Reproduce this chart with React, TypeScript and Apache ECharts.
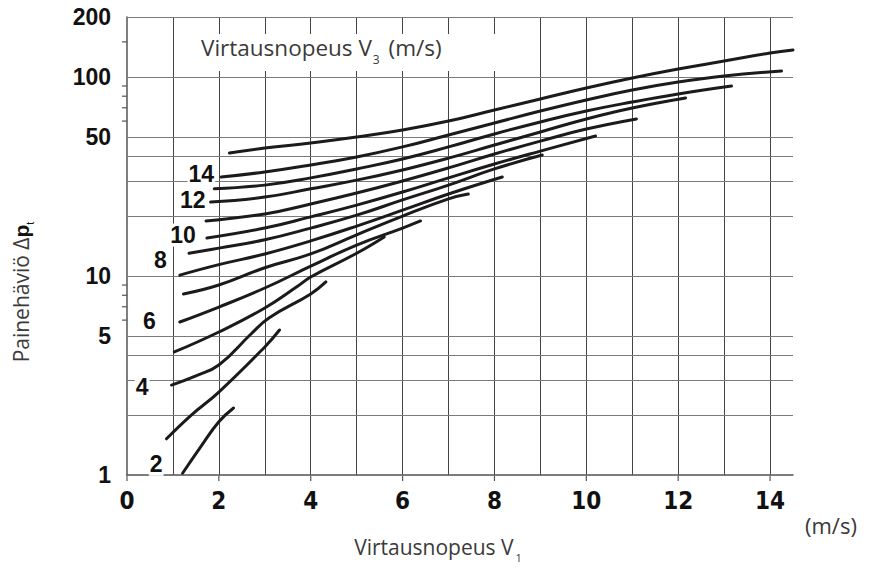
import React, { useEffect, useRef } from 'react';
import * as echarts from 'echarts';

// ---- axes ----
const X_MIN = 0;
const X_MAX = 14.5;
const X_STEP = 1;
const xLabelValues = [0, 2, 4, 6, 8, 10, 12, 14];
const Y_MIN = 1;
const Y_MAX = 200;
const yGridValues = [1, 2, 3, 4, 5, 10, 20, 30, 40, 50, 100, 200];
const yLabelValues = [1, 5, 10, 50, 100, 200];
const yMinorTickValues = [6, 7, 8, 9, 60, 70, 80, 90, 150];

// ---- curves: [V1 (m/s), pressure loss] for each V3 ----
const curve2 = [[1.21, 1.02], [1.6, 1.38], [2.0, 1.85], [2.32, 2.17]];
const curve3 = [[0.86, 1.52], [1.4, 2.0], [2, 2.61], [3, 4.4], [3.32, 5.35]];
const curve4 = [[0.97, 2.83], [1.5, 3.15], [2, 3.57], [2.7, 5.11], [3.09, 6.15], [4, 8.12], [4.33, 9.33]];
const curve5 = [[1.03, 4.15], [2, 5.23], [3, 6.9], [3.72, 8.9], [4, 9.88], [5, 13.0], [5.6, 15.7]];
const curve6 = [[1.15, 5.87], [2, 6.98], [3, 8.7], [4, 11.2], [5, 14.3], [6, 17.4], [6.39, 18.9]];
const curve7 = [[1.23, 8.12], [2, 9.01], [3, 11.0], [4, 12.9], [5, 16.1], [6, 20.0], [7, 24.4], [7.43, 25.8]];
const curve8 = [[1.15, 10.1], [2, 11.4], [3, 12.9], [4, 15.0], [5, 17.8], [6, 21.4], [7, 25.8], [8.17, 31.4]];
const curve9 = [[1.35, 13.0], [2, 13.8], [3, 15.2], [4, 17.4], [5, 20.2], [6, 24.1], [7, 28.6], [8, 34.5], [9.04, 40.5]];
const curve10 = [[1.74, 15.5], [3, 17.4], [4, 19.8], [5, 22.7], [6, 26.4], [7, 31.1], [8, 36.5], [9, 42.4], [10.2, 50.5]];
const curve11 = [[1.72, 18.9], [3, 20.5], [4, 23.0], [5, 26.1], [6, 30.0], [7, 34.9], [8, 41.0], [9, 47.6], [10, 54.7], [11.09, 61.5]];
const curve12 = [[1.82, 23.5], [3, 24.9], [4, 27.4], [5, 30.3], [6, 34.1], [7, 39.1], [8, 45.5], [9, 52.9], [10, 61.5], [11, 69.8], [12.16, 78.4]];
const curve13 = [[1.9, 27.4], [3, 28.6], [4, 31.1], [5, 34.5], [6, 38.7], [7, 44.5], [8, 51.7], [9, 59.4], [10, 67.4], [11, 74.8], [12, 82.1], [13.16, 90.0]];
const curve14 = [[2.05, 31.4], [3, 33.3], [4, 36.1], [5, 39.6], [6, 44.5], [7, 51.1], [8, 58.7], [9, 67.4], [10, 76.6], [11, 86.0], [12, 94.3], [13, 101.1], [14.25, 107.1]];
const curve15 = [[2.23, 41.5], [3, 43.9], [4, 46.6], [5, 49.9], [6, 54.1], [7, 60.0], [8, 68.2], [9, 77.5], [10, 88.0], [11, 98.8], [12, 109.6], [13, 120.2], [14, 131.9], [14.5, 136.6]];

const curves = [curve2, curve3, curve4, curve5, curve6, curve7, curve8, curve9, curve10, curve11, curve12, curve13, curve14, curve15];
const curveNames = ['2', '3', '4', '5', '6', '7', '8', '9', '10', '11', '12', '13', '14', '15'];
const labelledCurves = ['2', '4', '6', '8', '10', '12', '14'];

// label placement (styling only)
const labelPlacement: Record<string, { distance: number; dy: number }> = {
  '2': { distance: 19, dy: -9 },
  '4': { distance: 22, dy: 2 },
  '6': { distance: 23, dy: -1 },
  '8': { distance: 12, dy: -15 },
  '10': { distance: 10, dy: -3 },
  '12': { distance: 4, dy: -2 },
  '14': { distance: 6, dy: -3 },
};

const INK = '#1d1a1b';
const GRID = '#7a7a7a';
const TEXT = '#3a3a3a';
const BOLD_FONT = "'Liberation Sans', Arial, sans-serif";
const NARROW_FONT = "'Liberation Sans Narrow', 'DejaVu Sans Condensed', 'Liberation Sans', sans-serif";
const LIGHT_FONT = "'Open Sans', 'Noto Sans', sans-serif";

export default function App() {
  const ref = useRef<HTMLDivElement>(null);

  useEffect(() => {
    if (!ref.current) return;
    const chart = echarts.init(ref.current, undefined, { renderer: 'svg' });

    const lineSeries = curves.map((c, i) => ({
      type: 'line',
      name: curveNames[i],
      data: c,
      smooth: 0.45,
      symbol: 'none',
      lineStyle: { color: INK, width: 3, cap: 'round' },
      z: 5,
    }));

    const labelData = curves
      .map((c, i) => ({ c, name: curveNames[i] }))
      .filter((d) => labelledCurves.includes(d.name))
      .map((d) => ({
        value: d.c[0],
        label: {
          show: true,
          formatter: d.name,
          position: 'left',
          distance: labelPlacement[d.name].distance,
          offset: [0, labelPlacement[d.name].dy],
        },
      }));

    const option: any = {
      animation: false,
      backgroundColor: '#ffffff',
      grid: { left: 127, right: 86, top: 17, bottom: 106, containLabel: false },
      xAxis: {
        type: 'value',
        min: X_MIN,
        max: X_MAX,
        interval: X_STEP,
        axisLine: { show: true, onZero: false, lineStyle: { color: '#555', width: 1.5 } },
        axisTick: { show: false },
        splitLine: { show: true, showMinLine: false, showMaxLine: false, lineStyle: { color: '#444', width: 1 } },
        axisLabel: {
          show: true,
          margin: 14,
          formatter: (v: number) => (xLabelValues.includes(v) ? String(v) : ''),
          showMaxLabel: false,
          fontFamily: NARROW_FONT,
          fontWeight: 'bold',
          fontSize: 24,
          color: '#111',
        },
      },
      yAxis: {
        type: 'log',
        logBase: 10,
        min: Y_MIN,
        max: Y_MAX,
        axisLine: { show: true, lineStyle: { color: '#555', width: 1.5 } },
        axisTick: { show: false },
        axisLabel: { show: false },
        splitLine: { show: false },
        minorTick: { show: false },
      },
      series: [
        {
          type: 'scatter',
          name: 'yMinorTicks',
          data: yMinorTickValues.map((v) => [X_MIN, v]),
          symbol: 'rect',
          symbolSize: [5, 1.2],
          symbolOffset: [-2.5, 0],
          itemStyle: { color: '#555', opacity: 1 },
          silent: true,
          z: 3,
          markLine: {
            silent: true,
            symbol: 'none',
            animation: false,
            lineStyle: { color: GRID, width: 1, type: 'solid' },
            label: {
              position: 'start',
              distance: 16,
              fontFamily: BOLD_FONT,
              fontWeight: 'bold',
              fontSize: 23,
              color: '#111',
            },
            emphasis: { disabled: true },
            data: yGridValues.map((v) => ({
              yAxis: v,
              label: { show: yLabelValues.includes(v), formatter: String(v) },
            })),
          },
        },
        {
          type: 'scatter',
          name: 'xTicks',
          data: xLabelValues.map((v) => [v, Y_MIN]),
          symbol: 'rect',
          symbolSize: [1.2, 6],
          symbolOffset: [0, 3],
          itemStyle: { color: '#555', opacity: 1 },
          silent: true,
          z: 3,
        },
        ...lineSeries,
        {
          type: 'scatter',
          name: 'curveLabels',
          data: labelData,
          symbolSize: 0,
          itemStyle: { color: INK, opacity: 1 },
          silent: true,
          z: 8,
          label: {
            fontFamily: BOLD_FONT,
            fontWeight: 'bold',
            fontSize: 23,
            color: '#111',
            backgroundColor: '#ffffff',
            padding: [0, 1, 0, 1],
          },
        },
      ],
      graphic: [
        {
          type: 'rect',
          z: 100,
          shape: { x: 200, y: 34, width: 320, height: 37 },
          style: { fill: '#ffffff' },
          silent: true,
        },
        {
          type: 'text',
          z: 101,
          x: 201,
          y: 30,
          silent: true,
          style: {
            text: '{m|Virtausnopeus V}{s|3}{m| (m/s)}',
            rich: {
              m: { fontFamily: LIGHT_FONT, fontSize: 22.5, lineHeight: 35, fill: TEXT, color: TEXT },
              s: { fontFamily: LIGHT_FONT, fontSize: 12, lineHeight: 12, verticalAlign: 'bottom', fill: TEXT, color: TEXT, padding: [0, 3, 0, 1] },
            },
          },
        },
        {
          type: 'text',
          z: 101,
          x: 438,
          y: 530,
          silent: true,
          style: {
            text: '{m|Virtausnopeus V}{s|1}',
            align: 'center',
            rich: {
              m: { fontFamily: LIGHT_FONT, fontSize: 21, lineHeight: 33, fill: TEXT, color: TEXT },
              s: { fontFamily: LIGHT_FONT, fontSize: 11, lineHeight: 11, verticalAlign: 'bottom', fill: TEXT, color: TEXT, padding: [0, 0, 0, 2] },
            },
          },
        },
        {
          type: 'text',
          z: 101,
          x: 805,
          y: 514,
          silent: true,
          style: { text: '(m/s)', fontFamily: LIGHT_FONT, fontSize: 22, fill: TEXT },
        },
        {
          type: 'text',
          z: 101,
          x: 21,
          y: 292,
          rotation: Math.PI / 2,
          silent: true,
          style: {
            text: '{m|Painehäviö }{d|Δ}{b|p}{s|t}',
            align: 'center',
            verticalAlign: 'middle',
            rich: {
              m: { fontFamily: LIGHT_FONT, fontSize: 21, lineHeight: 28, fill: TEXT, color: TEXT },
              d: { fontFamily: LIGHT_FONT, fontSize: 21, lineHeight: 28, fill: TEXT, color: TEXT },
              b: { fontFamily: BOLD_FONT, fontWeight: 'bold', fontSize: 21, lineHeight: 28, fill: '#111', color: '#111' },
              s: { fontFamily: BOLD_FONT, fontSize: 11, lineHeight: 11, verticalAlign: 'bottom', fill: '#111', color: '#111' },
            },
          },
        },
      ],
    };

    chart.setOption(option);
    return () => chart.dispose();
  }, []);

  return (
    <div
      ref={ref}
      style={{ position: 'fixed', left: 0, top: 0, width: 879, height: 581, background: '#fff' }}
    />
  );
}
